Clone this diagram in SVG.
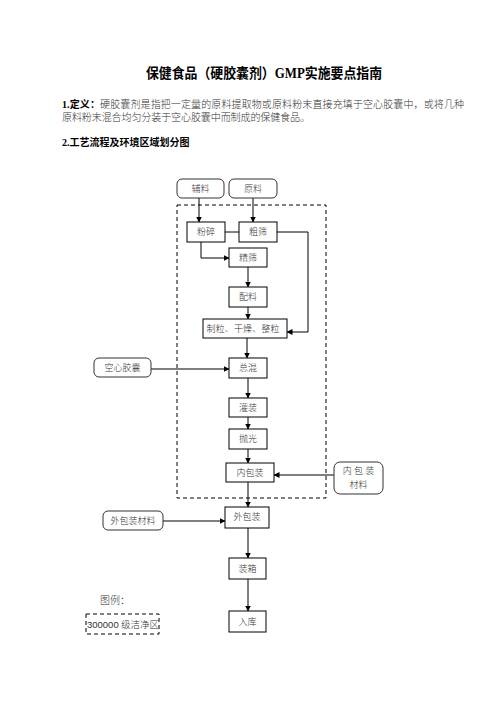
<svg xmlns="http://www.w3.org/2000/svg" width="496" height="702" viewBox="0 0 496 702">
<defs>
<marker id="arr" markerWidth="6" markerHeight="6" refX="5.5" refY="3" orient="auto" markerUnits="userSpaceOnUse">
<path d="M0,0 L6,3 L0,6 z" fill="#000"/>
</marker>
<style>
text{font-family:"Liberation Serif","Noto Sans CJK SC",serif;fill:#333;font-weight:300}
.t{font-size:14px;font-weight:bold;fill:#000}
.b{font-size:10px}
.h{font-size:10px;font-weight:bold;fill:#000}
.n{font-size:9px;text-anchor:middle}
.box{fill:#fff;stroke:#000;stroke-width:1}
.rbox{fill:#fff;stroke:#333;stroke-width:1}
.dash{fill:none;stroke:#000;stroke-width:1;stroke-dasharray:4,3}
.c{fill:none;stroke:#000;stroke-width:1}
.a{fill:none;stroke:#000;stroke-width:1;marker-end:url(#arr)}
</style>
</defs>
<rect width="496" height="702" fill="#fff"/>
<text class="t" x="146" y="78" textLength="236" lengthAdjust="spacingAndGlyphs">保健食品（硬胶囊剂）GMP实施要点指南</text>
<text class="b" x="62" y="108" textLength="402" lengthAdjust="spacing"><tspan class="h">1.定义：</tspan>硬胶囊剂是指把一定量的原料提取物或原料粉末直接充填于空心胶囊中，或将几种</text>
<text class="b" x="62" y="121" textLength="248" lengthAdjust="spacing">原料粉末混合均匀分装于空心胶囊中而制成的保健食品。</text>
<text class="h" x="62" y="146">2.工艺流程及环境区域划分图</text>

<g id="clean-zone"><rect class="dash" x="177" y="205" width="149" height="293"/></g>

<g id="connectors">
<path class="a" d="M199 198 V222"/>
<path class="a" d="M253 198 V222"/>
<path class="c" d="M225 232 H239"/>
<path class="a" d="M201 242 V258 H229"/>
<path class="a" d="M277 232 H308 V332 H287"/>
<path class="a" d="M248 267 V287"/>
<path class="a" d="M248 307 V319"/>
<path class="a" d="M247 338 V358"/>
<path class="a" d="M151 369 H229"/>
<path class="a" d="M248 378 V398"/>
<path class="a" d="M248 417 V429"/>
<path class="a" d="M248 449 V463"/>
<path class="a" d="M334 475 H274"/>
<path class="a" d="M248 482 V507"/>
<path class="a" d="M163 521 H225"/>
<path class="a" d="M248 528 V558"/>
<path class="a" d="M248 579 V611"/>
</g>

<g id="fuliao"><rect class="rbox" x="177" y="179" width="47" height="19" rx="5"/><text class="n" x="200.5" y="192">辅料</text></g>
<g id="yuanliao"><rect class="rbox" x="229" y="179" width="48" height="19" rx="5"/><text class="n" x="253" y="192">原料</text></g>
<g id="fensui"><rect class="box" x="187" y="222" width="38" height="20"/><text class="n" x="206" y="235">粉碎</text></g>
<g id="cushai"><rect class="box" x="239" y="222" width="38" height="20"/><text class="n" x="258" y="235">粗筛</text></g>
<g id="jingshai"><rect class="box" x="229" y="248" width="38" height="19"/><text class="n" x="248" y="261">精筛</text></g>
<g id="peiliao"><rect class="box" x="229" y="287" width="38" height="20"/><text class="n" x="248" y="300">配料</text></g>
<g id="zhili"><rect class="box" x="203" y="319" width="84" height="19"/><text class="n" x="243" y="332" textLength="73" lengthAdjust="spacing">制粒、干燥、整粒</text></g>
<g id="zonghun"><rect class="box" x="229" y="358" width="38" height="20"/><text class="n" x="248" y="371">总混</text></g>
<g id="kongxin"><rect class="rbox" x="94" y="358" width="57" height="19" rx="5"/><text class="n" x="122.5" y="371">空心胶囊</text></g>
<g id="guanzhuang"><rect class="box" x="229" y="398" width="38" height="19"/><text class="n" x="248" y="411">灌装</text></g>
<g id="paoguang"><rect class="box" x="229" y="429" width="38" height="20"/><text class="n" x="248" y="442">抛光</text></g>
<g id="neibaozhuang"><rect class="box" x="226" y="463" width="48" height="19"/><text class="n" x="250" y="476">内包装</text></g>
<g id="neibaocailiao"><rect class="rbox" x="334" y="462" width="49" height="32" rx="6"/><text class="n" x="358.5" y="474">内 包 装</text><text class="n" x="358.5" y="488">材料</text></g>
<g id="waibaozhuang"><rect class="box" x="225" y="507" width="44" height="21"/><text class="n" x="247" y="520">外包装</text></g>
<g id="waibaocailiao"><rect class="rbox" x="103" y="511" width="60" height="19" rx="5"/><text class="n" x="133" y="524">外包装材料</text></g>
<g id="zhuangxiang"><rect class="box" x="229" y="558" width="37" height="21"/><text class="n" x="247.5" y="572">装箱</text></g>
<g id="ruku"><rect class="box" x="229" y="611" width="37" height="21"/><text class="n" x="247.5" y="625">入库</text></g>

<g id="legend">
<text class="b" x="100" y="604">图例：</text>
<rect class="dash" x="86" y="614" width="73" height="20"/>
<text x="87" y="628" style="font-size:9.5px" textLength="72" lengthAdjust="spacing"><tspan style="font-family:'Liberation Sans',sans-serif">300000</tspan> 级洁净区</text>
</g>
</svg>
